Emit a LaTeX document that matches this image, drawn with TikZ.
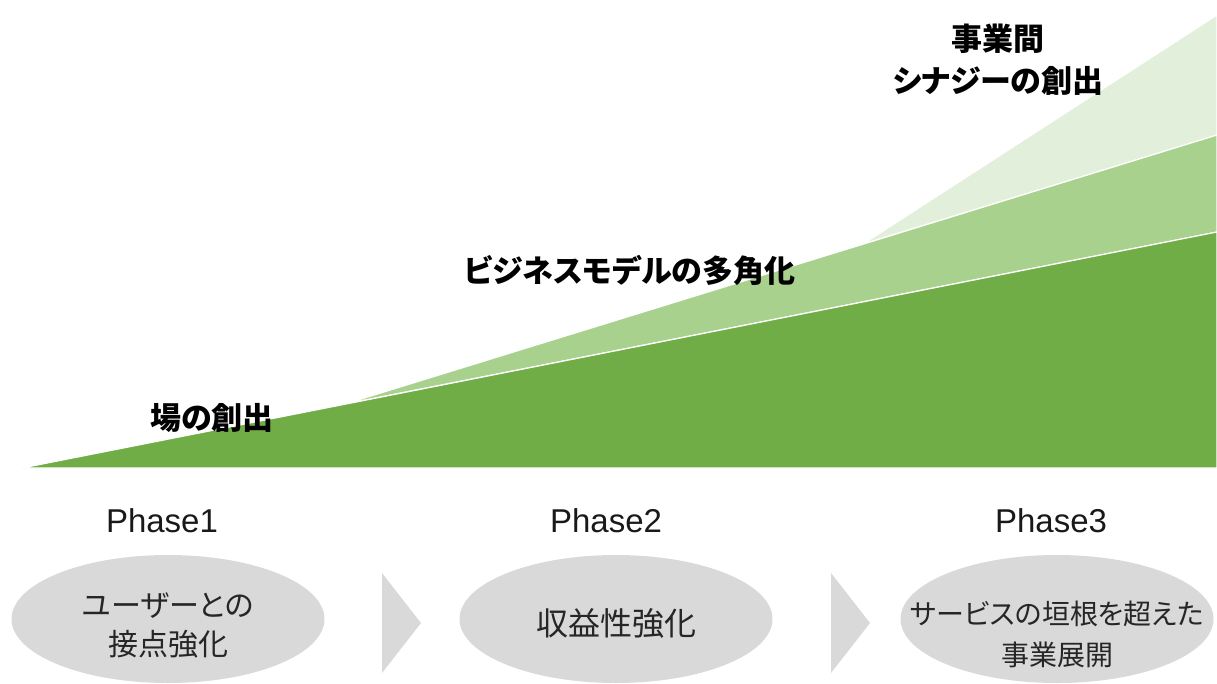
\documentclass[tikz,border=0pt]{standalone}
\usepackage{fontspec}
\setmainfont{Liberation Sans}
\newfontfamily\jpfont[RawFeature=+palt]{Noto Sans CJK JP}
\usetikzlibrary{positioning, shapes.geometric}

\definecolor{growdark}{HTML}{70AD47}
\definecolor{growmid}{HTML}{A9D18E}
\definecolor{growlight}{HTML}{E2EFDA}
\definecolor{bubblegray}{HTML}{D9D9D9}

\tikzset{
  layer/.style={draw=white, line width=1.2pt, line join=round},
  headline/.style={font=\jpfont\bfseries\fontsize{31}{42}\selectfont, align=center, text=black},
  phase/.style={font=\fontsize{33}{36}\selectfont, text=black!90},
  bubble/.style={ellipse, fill=bubblegray, minimum width=313pt, minimum height=128pt, inner sep=0pt},
  bubbletext/.style={align=center, text=black!85, font=\jpfont\fontsize{30}{39}\selectfont}
}

\begin{document}
\begin{tikzpicture}[x=1pt, y=-1pt]
    \useasboundingbox (0,0) rectangle (1217,684);

    % Draw growth layers
    \fill[growlight, layer] (863,244) -- (1217,15) -- (1217,135) -- cycle;
    \fill[growmid, layer] (345,404) -- (1217,135) -- (1217,232) -- cycle;
    \fill[growdark, layer] (22,468) -- (1217,232) -- (1217,468) -- cycle;

    % Labels of the layers
    \node[headline] (place) at (212,418) {場の創出};
    \node[headline] (model) at (630,270) {ビジネスモデルの多角化};
    \node[headline] (synergy) at (998,60) {事業間\\シナジーの創出};

    % Phases and arrows
    \foreach \i/\x in {1/162, 2/606, 3/1051} {
      \node[phase] (phase\i) at (\x,521) {Phase\i};
    }
    \foreach \x in {382, 831} {
      \fill[bubblegray] (\x,573) -- ++(39,50) -- ++(-39,50) -- cycle;
    }

    % Ellipses with their texts
    \foreach \i/\x in {1/168, 2/616, 3/1057} {
      \node[bubble] (step\i) at (\x,619) {};
    }
    \node[bubbletext] (step1text) at ([yshift=-6pt]step1) {ユーザーとの\\接点強化};
    \node[bubbletext, font=\jpfont\fontsize{32}{38}\selectfont] (step2text) at ([yshift=-4pt]step2) {収益性強化};
    \node[bubbletext, font=\jpfont\fontsize{28}{41}\selectfont] (step3text) at ([yshift=-15pt]step3) {サービスの垣根を超えた\\事業展開};

  \end{tikzpicture}
\end{document}
